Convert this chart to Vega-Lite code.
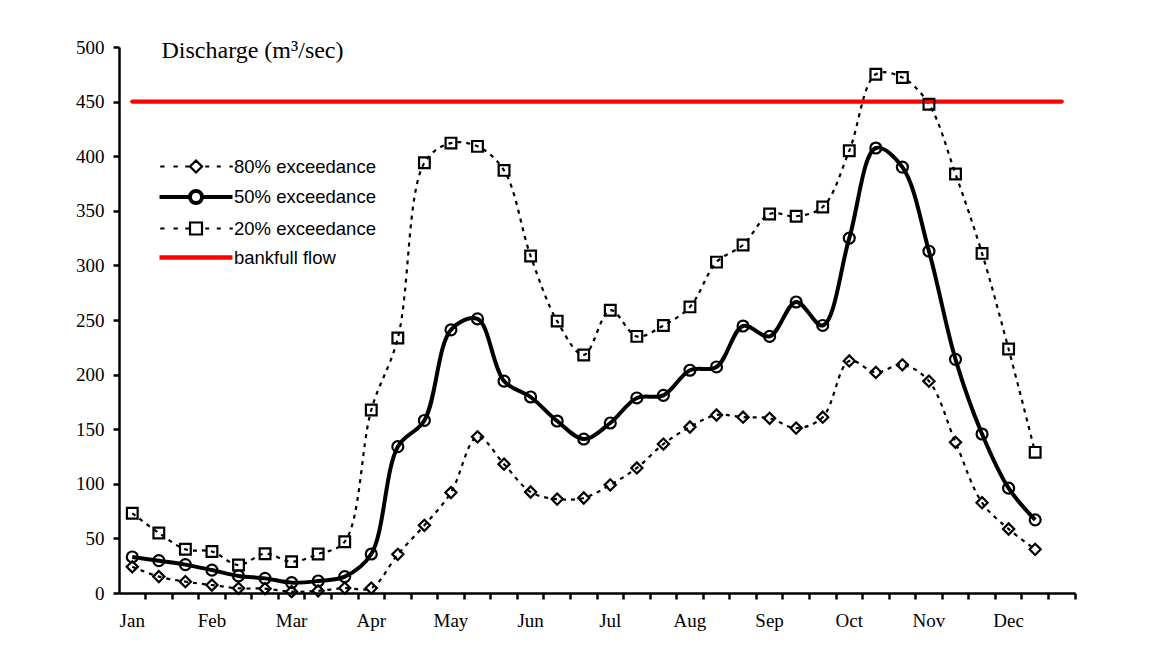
{
  "$schema": "https://vega.github.io/schema/vega-lite/v6.json",
  "width": 956,
  "height": 546,
  "autosize": {"type": "none"},
  "padding": {"left": 119, "top": 47, "right": 76, "bottom": 59},
  "background": "white",
  "config": {
    "view": {"stroke": null},
    "axis": {"grid": false, "domainColor": "#000000", "domainWidth": 2.5, "tickColor": "#000000", "tickWidth": 2.5, "tickSize": 6, "labelColor": "#000000", "labelFont": "Liberation Serif", "labelFontSize": 19},
    "legend": {
      "title": null,
      "orient": "none",
      "legendX": 38,
      "legendY": 108,
      "padding": 0,
      "rowPadding": 6,
      "labelOffset": 52,
      "symbolSize": 400,
      "labelFont": "Liberation Sans",
      "labelFontSize": 18.5,
      "labelColor": "#000000",
      "labelLimit": 0,
      "symbolOpacity": 1,
      "symbolFillColor": "transparent"
    }
  },
  "datasets": {
    "flows": [
      {"p": "Jan-1", "q80": 24, "q50": 33, "q20": 73},
      {"p": "Jan-2", "q80": 15, "q50": 29.6, "q20": 55},
      {"p": "Jan-3", "q80": 10.4, "q50": 26, "q20": 40},
      {"p": "Feb-1", "q80": 7.3, "q50": 21, "q20": 38},
      {"p": "Feb-2", "q80": 4.3, "q50": 15.6, "q20": 25.6},
      {"p": "Feb-3", "q80": 4, "q50": 13.4, "q20": 36},
      {"p": "Mar-1", "q80": 1.2, "q50": 9.5, "q20": 28.7},
      {"p": "Mar-2", "q80": 2, "q50": 11, "q20": 35.7},
      {"p": "Mar-3", "q80": 4.5, "q50": 15, "q20": 47},
      {"p": "Apr-1", "q80": 4.5, "q50": 35.7, "q20": 167.6},
      {"p": "Apr-2", "q80": 35.4, "q50": 134, "q20": 233.5},
      {"p": "Apr-3", "q80": 62, "q50": 158, "q20": 394},
      {"p": "May-1", "q80": 92, "q50": 241, "q20": 412},
      {"p": "May-2", "q80": 143, "q50": 251, "q20": 409},
      {"p": "May-3", "q80": 118, "q50": 194, "q20": 387},
      {"p": "Jun-1", "q80": 92.5, "q50": 179.5, "q20": 308.6},
      {"p": "Jun-2", "q80": 86, "q50": 157.5, "q20": 249},
      {"p": "Jun-3", "q80": 87, "q50": 141, "q20": 218},
      {"p": "Jul-1", "q80": 99, "q50": 155.7, "q20": 259},
      {"p": "Jul-2", "q80": 114.5, "q50": 178.6, "q20": 235},
      {"p": "Jul-3", "q80": 136.4, "q50": 181, "q20": 245},
      {"p": "Aug-1", "q80": 152, "q50": 204, "q20": 262},
      {"p": "Aug-2", "q80": 163, "q50": 207, "q20": 303},
      {"p": "Aug-3", "q80": 161, "q50": 244.5, "q20": 318.7},
      {"p": "Sep-1", "q80": 160, "q50": 235, "q20": 347},
      {"p": "Sep-2", "q80": 151, "q50": 266.5, "q20": 345},
      {"p": "Sep-3", "q80": 161, "q50": 245, "q20": 353.5},
      {"p": "Oct-1", "q80": 212.5, "q50": 325, "q20": 405},
      {"p": "Oct-2", "q80": 202, "q50": 407.5, "q20": 475},
      {"p": "Oct-3", "q80": 209, "q50": 390, "q20": 472},
      {"p": "Nov-1", "q80": 194, "q50": 313, "q20": 447.5},
      {"p": "Nov-2", "q80": 138, "q50": 214, "q20": 383.7},
      {"p": "Nov-3", "q80": 82.7, "q50": 145.6, "q20": 311},
      {"p": "Dec-1", "q80": 58.6, "q50": 96, "q20": 223.4},
      {"p": "Dec-2", "q80": 40, "q50": 67, "q20": 128.8}
    ],
    "bank": [
      {"p": "Jan-1", "q": 450},
      {"p": "Dec-3", "q": 450}
    ],
    "keys": [
      {"s": "80% exceedance"},
      {"s": "50% exceedance"},
      {"s": "20% exceedance"},
      {"s": "bankfull flow"}
    ]
  },
  "encoding": {
    "x": {
      "field": "p",
      "type": "ordinal",
      "scale": {
        "type": "band",
        "paddingInner": 0,
        "paddingOuter": 0,
        "domain": ["Jan-1","Jan-2","Jan-3","Feb-1","Feb-2","Feb-3","Mar-1","Mar-2","Mar-3","Apr-1","Apr-2","Apr-3","May-1","May-2","May-3","Jun-1","Jun-2","Jun-3","Jul-1","Jul-2","Jul-3","Aug-1","Aug-2","Aug-3","Sep-1","Sep-2","Sep-3","Oct-1","Oct-2","Oct-3","Nov-1","Nov-2","Nov-3","Dec-1","Dec-2","Dec-3"]
      },
      "axis": {
        "title": null,
        "bandPosition": 1,
        "labelExpr": "indexof(datum.value, '-1') === 3 ? substring(datum.value, 0, 3) : ''",
        "labelOverlap": false,
        "labelAngle": 0,
        "labelBaseline": "top",
        "labelPadding": 12
      }
    },
    "y": {
      "field": "q",
      "type": "quantitative",
      "scale": {"domain": [0, 500], "nice": false},
      "axis": {
        "title": "Discharge (m³/sec)",
        "values": [0, 50, 100, 150, 200, 250, 300, 350, 400, 450, 500],
        "labelPadding": 9,
        "titleAngle": 0,
        "titleAlign": "left",
        "titleBaseline": "alphabetic",
        "titleX": 42,
        "titleY": 10,
        "titleFont": "Liberation Serif",
        "titleFontSize": 24,
        "titleFontWeight": "normal",
        "titleColor": "#000000"
      }
    }
  },
  "layer": [
    {
      "data": {"name": "flows"},
      "transform": [{"fold": ["q80", "q20"], "as": ["s", "q"]}],
      "mark": {"type": "line", "interpolate": "catmull-rom", "color": "#000000", "strokeWidth": 2.2, "strokeDash": [4, 5]},
      "encoding": {"detail": {"field": "s", "type": "nominal"}}
    },
    {
      "data": {"name": "bank"},
      "mark": {"type": "line", "color": "#ff0000", "strokeWidth": 4.3, "strokeCap": "round"},
      "encoding": {}
    },
    {
      "data": {"name": "flows"},
      "transform": [{"fold": ["q50"], "as": ["s", "q"]}],
      "mark": {"type": "line", "interpolate": "catmull-rom", "color": "#000000", "strokeWidth": 4},
      "encoding": {}
    },
    {
      "data": {"name": "flows"},
      "transform": [{"fold": ["q80"], "as": ["s", "q"]}],
      "mark": {"type": "point", "shape": "diamond", "filled": false, "color": "#000000", "strokeWidth": 2.2, "size": 125, "opacity": 1},
      "encoding": {}
    },
    {
      "data": {"name": "flows"},
      "transform": [{"fold": ["q50"], "as": ["s", "q"]}],
      "mark": {"type": "point", "shape": "circle", "filled": false, "color": "#000000", "strokeWidth": 2.2, "size": 120, "opacity": 1},
      "encoding": {}
    },
    {
      "data": {"name": "flows"},
      "transform": [{"fold": ["q20"], "as": ["s", "q"]}],
      "mark": {"type": "point", "shape": "square", "filled": false, "color": "#000000", "strokeWidth": 2.2, "size": 115, "opacity": 1},
      "encoding": {}
    },
    {
      "data": {"name": "keys"},
      "transform": [{"filter": "false"}],
      "mark": {"type": "point", "filled": false, "size": 400, "opacity": 1},
      "encoding": {
        "shape": {
          "field": "s",
          "type": "nominal",
          "scale": {
            "domain": ["80% exceedance", "50% exceedance", "20% exceedance", "bankfull flow"],
            "range": [
              "M-0.93,0L-0.5,0M0.4,0L0.83,0M1.57,0L1.97,0M2.65,-0.6L3.25,0L2.65,0.6L2.05,0ZM3.57,0L3.97,0M4.73,0L5.13,0M6,0L6.33,0",
              "M-1,0L2.05,0M3.25,0L6.3,0M3.25,0C3.25,0.331,2.981,0.6,2.65,0.6C2.319,0.6,2.05,0.331,2.05,0C2.05,-0.331,2.319,-0.6,2.65,-0.6C2.981,-0.6,3.25,-0.331,3.25,0Z",
              "M-0.93,0L-0.5,0M0.4,0L0.83,0M1.57,0L1.97,0M2.05,-0.6L3.25,-0.6L3.25,0.6L2.05,0.6ZM3.57,0L3.97,0M4.73,0L5.13,0M6,0L6.33,0",
              "M-1,0L6.3,0"
            ]
          }
        },
        "color": {
          "field": "s",
          "type": "nominal",
          "scale": {
            "domain": ["80% exceedance", "50% exceedance", "20% exceedance", "bankfull flow"],
            "range": ["#000000", "#000000", "#000000", "#ff0000"]
          }
        },
        "strokeWidth": {
          "field": "s",
          "type": "nominal",
          "scale": {
            "type": "ordinal",
            "domain": ["80% exceedance", "50% exceedance", "20% exceedance", "bankfull flow"],
            "range": [2.2, 4, 2.2, 4.3]
          }
        }
      }
    }
  ]
}
